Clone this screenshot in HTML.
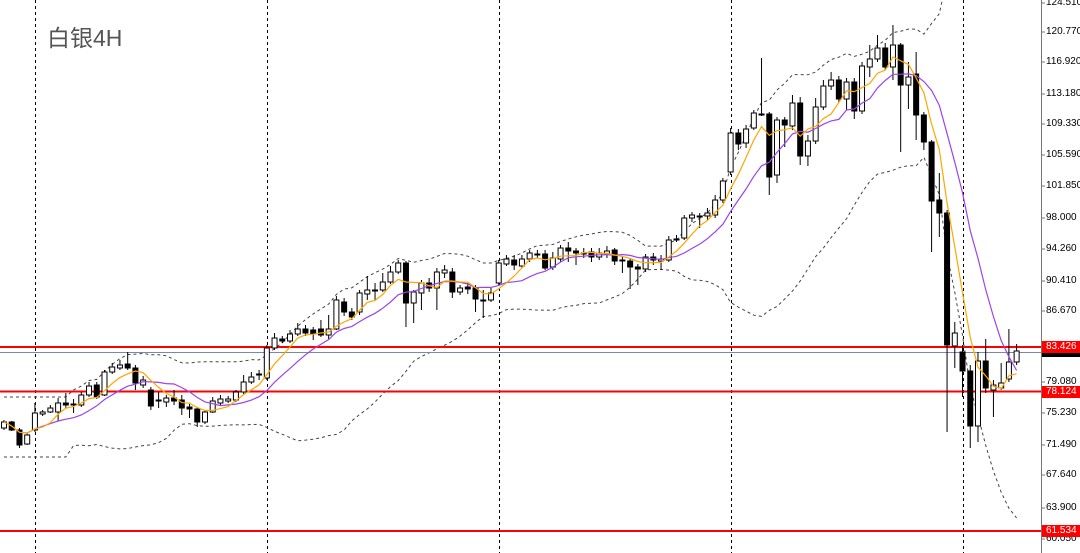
<!DOCTYPE html>
<html><head><meta charset="utf-8"><style>
body{margin:0;background:#fff;width:1080px;height:553px;overflow:hidden;font-family:"Liberation Sans","Noto Sans CJK SC",sans-serif}
#w{position:relative;width:1080px;height:553px}
.t{position:absolute;left:1046px;font-size:10px;color:#000;line-height:10px}
.r{position:absolute;left:1042px;width:38px;height:12px;background:#f00;color:#fff;font-size:10px;line-height:12px;padding-left:4px;box-sizing:border-box}
#title{position:absolute;left:47px;top:19px;font-size:23px;color:#555}
</style></head><body><div id="w">
<svg id="s" width="1080" height="553" style="position:absolute;left:0;top:0"></svg>
<div id="title">白银4H</div>
<div class="t" style="top:-2px">124.510</div>
<div class="t" style="top:27px">120.770</div>
<div class="t" style="top:57px">116.920</div>
<div class="t" style="top:89px">113.180</div>
<div class="t" style="top:119px">109.330</div>
<div class="t" style="top:150px">105.590</div>
<div class="t" style="top:181px">101.850</div>
<div class="t" style="top:213px">98.000</div>
<div class="t" style="top:244px">94.260</div>
<div class="t" style="top:276px">90.410</div>
<div class="t" style="top:306px">86.670</div>
<div class="t" style="top:377px">79.080</div>
<div class="t" style="top:408px">75.230</div>
<div class="t" style="top:440px">71.490</div>
<div class="t" style="top:470px">67.640</div>
<div class="t" style="top:503px">63.900</div>
<div class="t" style="top:534px">60.050</div>
<div style="position:absolute;left:1042px;top:352px;width:38px;height:5px;background:#000"></div>
<div class="r" style="top:341px">83.426</div>
<div class="r" style="top:386px">78.124</div>
<div class="r" style="top:525px">61.534</div>
</div>
<script>
var D=[[428,422,420,430],[422,430,421,431],[430,445,428,448],[444,435,433,445],[430,413,403,432],[414,412,410,416],[412,408,405,413],[412,403,398,421],[403,405,393,408],[405,404,399,413],[405,395,392,407],[395,386,382,397],[385,397,382,399],[395,372,370,396],[372,367,363,374],[368,365,360,370],[364,368,352,370],[368,383,365,390],[385,380,376,388],[390,406,387,410],[400,400,392,408],[402,398,395,407],[398,401,390,405],[400,408,395,415],[407,409,404,418],[409,422,407,427],[422,412,410,424],[412,401,397,413],[403,399,395,405],[401,399,396,403],[400,392,390,402],[392,382,375,394],[382,377,372,384],[375,374,370,380],[378,348,345,380],[348,338,333,350],
[339,341,336,343],[341,334,330,343],[334,329,323,336],[329,333,325,336],[330,334,327,340],[329,335,320,337],[335,329,315,340],[329,300,296,330],[302,312,298,316],[312,317,308,320],[312,293,290,315],[294,290,276,300],[291,290,283,300],[290,282,273,292],[282,272,266,284],[272,263,260,274],[263,303,261,327],[303,292,290,323],[293,283,280,310],[283,288,278,292],[288,272,268,310],[273,270,265,278],[272,292,268,298],[292,288,285,295],[287,289,283,294],[288,299,285,312],[300,300,290,318],[300,293,288,302],[283,263,260,285],[264,259,255,266],[260,265,255,270],
[266,259,255,268],[259,253,250,262],[254,254,250,258],[254,268,250,270],[267,258,252,270],[259,248,245,262],[248,251,242,262],[251,253,248,265],[253,253,248,258],[252,257,248,262],[257,253,248,260],[254,251,246,258],[250,261,248,265],[260,260,256,273],[261,267,258,289],[267,269,264,285],[269,257,254,272],[257,260,253,265],[261,259,255,270],[260,240,236,262],[239,239,235,242],[238,218,215,240],[218,215,212,222],[216,217,213,228],[216,213,208,220],[215,200,195,218],
[200,181,178,203],[172,133,128,175],[133,144,129,150],[143,129,125,148],[128,113,110,130],[114,114,58,116],[114,177,112,195],[175,120,117,183],[120,125,117,147],[126,103,95,130],[103,156,97,165],[156,141,135,166],[141,107,98,144],[107,86,80,110],[86,80,72,90],[80,99,76,102],[99,82,78,110],[82,111,78,119],[111,66,62,114],[67,59,45,77],[59,48,35,62],[48,67,43,70],[67,45,25,80],[45,85,43,152],[85,77,62,109],[74,115,52,140],[115,142,112,150],
[142,201,140,252],[200,213,173,237],[213,345,210,432],[346,333,322,368],[352,371,345,397],[371,426,365,448],[426,361,352,442],[361,388,339,393],[390,385,380,417],[388,383,363,390],[379,362,329,382],[362,351,344,365]];
var s='',X=function(i){return 4+i*7.73};
[35,267,499,731,963].forEach(function(x){s+='<line x1="'+x+'.5" y1="0" x2="'+x+'.5" y2="553" stroke="#000" stroke-dasharray="3,3"/>'});
s+='<line x1="1041.5" y1="0" x2="1041.5" y2="553" stroke="#777"/>';
[3,32,62,94,124,155,186,218,249,281,311,382,413,445,475,508,539].forEach(function(y){s+='<line x1="1041" y1="'+y+'" x2="1045" y2="'+y+'" stroke="#777"/>'});
var C=D.map(function(d){return d[1]});
function sma(n){return C.map(function(_,i){var a=Math.max(0,i-n+1),t=0;for(var k=a;k<=i;k++)t+=C[k];return t/(i-a+1)})}
var m20=sma(20),up=[],lo=[];
C.forEach(function(_,i){var a=Math.max(0,i-19),n=i-a+1,v=0;for(var k=a;k<=i;k++)v+=(C[k]-m20[i])*(C[k]-m20[i]);var sd=Math.sqrt(v/n);var m=m20[i];if(n<10){sd=15;m=427;}up.push(m-2*sd);lo.push(m+2*sd)});
function pl(a,st,extra){return '<polyline fill="none" stroke="'+st+'" '+extra+' points="'+a.map(function(y,i){return X(i).toFixed(1)+','+y.toFixed(1)}).join(' ')+'"/>'}
s+=pl(up,'#444','stroke-dasharray="3,3"')+pl(lo,'#444','stroke-dasharray="3,3"');
s+='<line x1="0" y1="352.5" x2="1041" y2="352.5" stroke="#7a8aa0"/>';
[347,391.5,531].forEach(function(y){s+='<line x1="0" y1="'+y+'" x2="1041" y2="'+y+'" stroke="#f00" stroke-width="2"/>'});
D.forEach(function(d,i){var x=X(i),o=d[0],c=d[1],t=Math.min(o,c),b=Math.max(o,c);if(b-t<1)b=t+1;
s+='<line x1="'+x+'" y1="'+d[2]+'" x2="'+x+'" y2="'+d[3]+'" stroke="#000"/>';
s+='<rect x="'+(x-2.5)+'" y="'+t+'" width="5" height="'+(b-t)+'" fill="'+(c>o?'#000':'#fff')+'" stroke="#000" stroke-width="1"/>'});
s+=pl(sma(10),'#9b45e6','stroke-width="1.2"')+pl(sma(5),'#ffa500','stroke-width="1.2"');
document.getElementById('s').innerHTML=s;
</script></body></html>
